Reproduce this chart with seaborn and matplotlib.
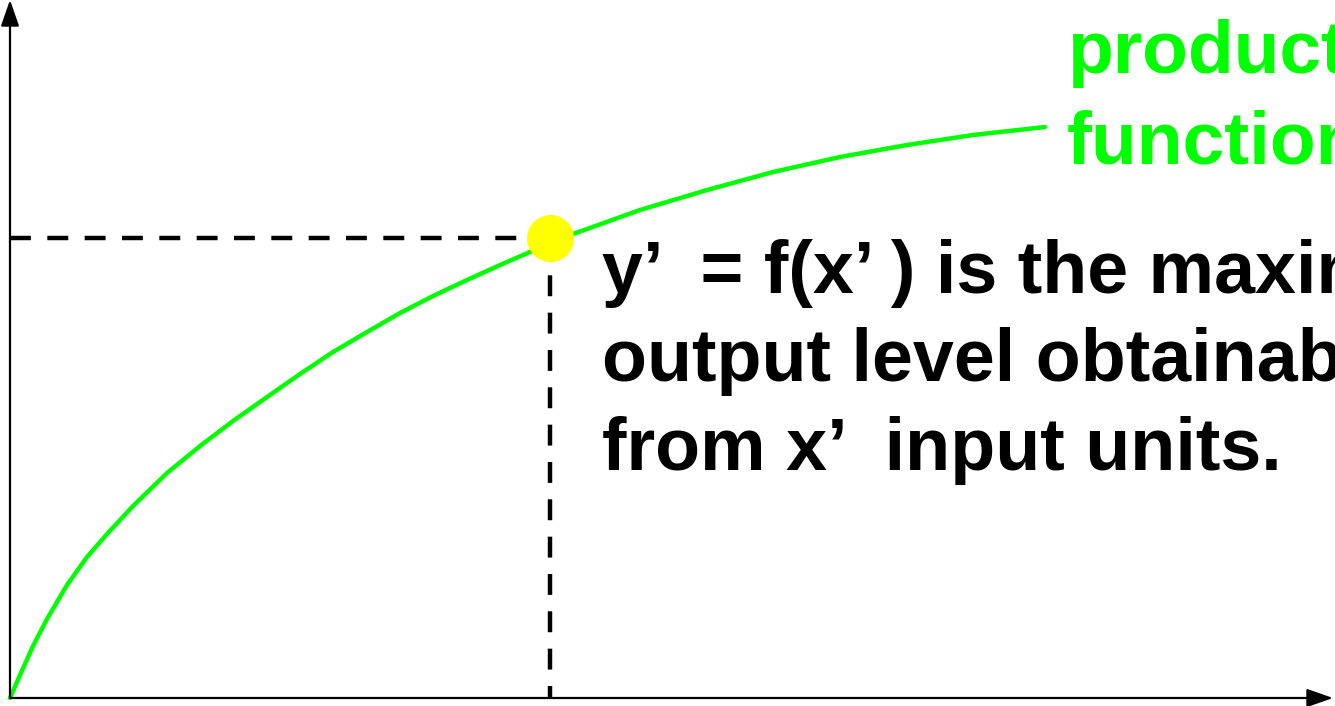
import matplotlib
matplotlib.use("Agg")
import matplotlib.pyplot as plt
import seaborn as sns
import pandas as pd

sns.set_theme(style="white")
plt.rcParams["font.family"] = ["Liberation Sans", "DejaVu Sans"]

# production function (input x, output y)
input_x = [0, 10, 23, 37, 57, 77, 97, 123, 157, 190, 223, 257, 290, 323, 357,
           390, 423, 457, 490, 520, 541, 563, 630, 697, 763, 830, 897, 963, 1035]
output_y = [0, 23, 52, 79, 113, 141, 164, 192, 225, 252, 277, 301, 324, 346, 366,
            385, 402, 418, 433, 446, 455, 464, 488, 508, 526, 541, 553, 563, 571]

# chosen point (x', y')
x_prime = [540]
y_prime = [460]

curve_label = ["production", "function"]
note_lines = ["y\u2019  = f(x\u2019 ) is the maximal",
              "output level obtainable",
              "from x\u2019  input units."]

df = pd.DataFrame({"x": input_x, "y": output_y})
pt = pd.DataFrame({"x": x_prime, "y": y_prime})

fig = plt.figure(figsize=(13.35, 7.06), dpi=100)
ax = fig.add_axes([0, 0, 1, 1])
ax.set_xlim(-10, 1325)
ax.set_ylim(-8, 698)

# axes with arrow heads
arrow = dict(arrowstyle="-|>,head_length=0.8,head_width=0.28", color="black",
             lw=1.6, mutation_scale=20, shrinkA=0, shrinkB=0)
ax.annotate("", xy=(0, 698), xytext=(0, 0), arrowprops=arrow,
            annotation_clip=False)
ax.annotate("", xy=(1323, 0), xytext=(0, 0), arrowprops=arrow,
            annotation_clip=False)

# dashed guides to the chosen point
ax.plot([0, x_prime[0]], [y_prime[0], y_prime[0]], color="black", lw=3.2,
        dashes=(4.7, 3.7))
ax.plot([x_prime[0], x_prime[0]], [y_prime[0], 0], color="black", lw=3.2,
        dashes=(4.7, 3.7))

sns.lineplot(data=df, x="x", y="y", color="#00ff00", lw=3.2, ax=ax,
             solid_capstyle="round", solid_joinstyle="round", sort=False)
sns.scatterplot(data=pt, x="x", y="y", color="#ffff00", s=1150, linewidth=0,
                ax=ax, zorder=5)
ax.axis("off")

# green curve label
for i, line in enumerate(curve_label):
    ax.text(1057, 625 - i * 90, line, color="#00ff00", fontsize=54,
            fontweight="bold", va="baseline", ha="left")

# black note
for i, line in enumerate(note_lines):
    ax.text(592, 405 - i * 88.5, line, color="black", fontsize=53,
            fontweight="bold", va="baseline", ha="left")

fig.savefig("out.png", dpi=100)
